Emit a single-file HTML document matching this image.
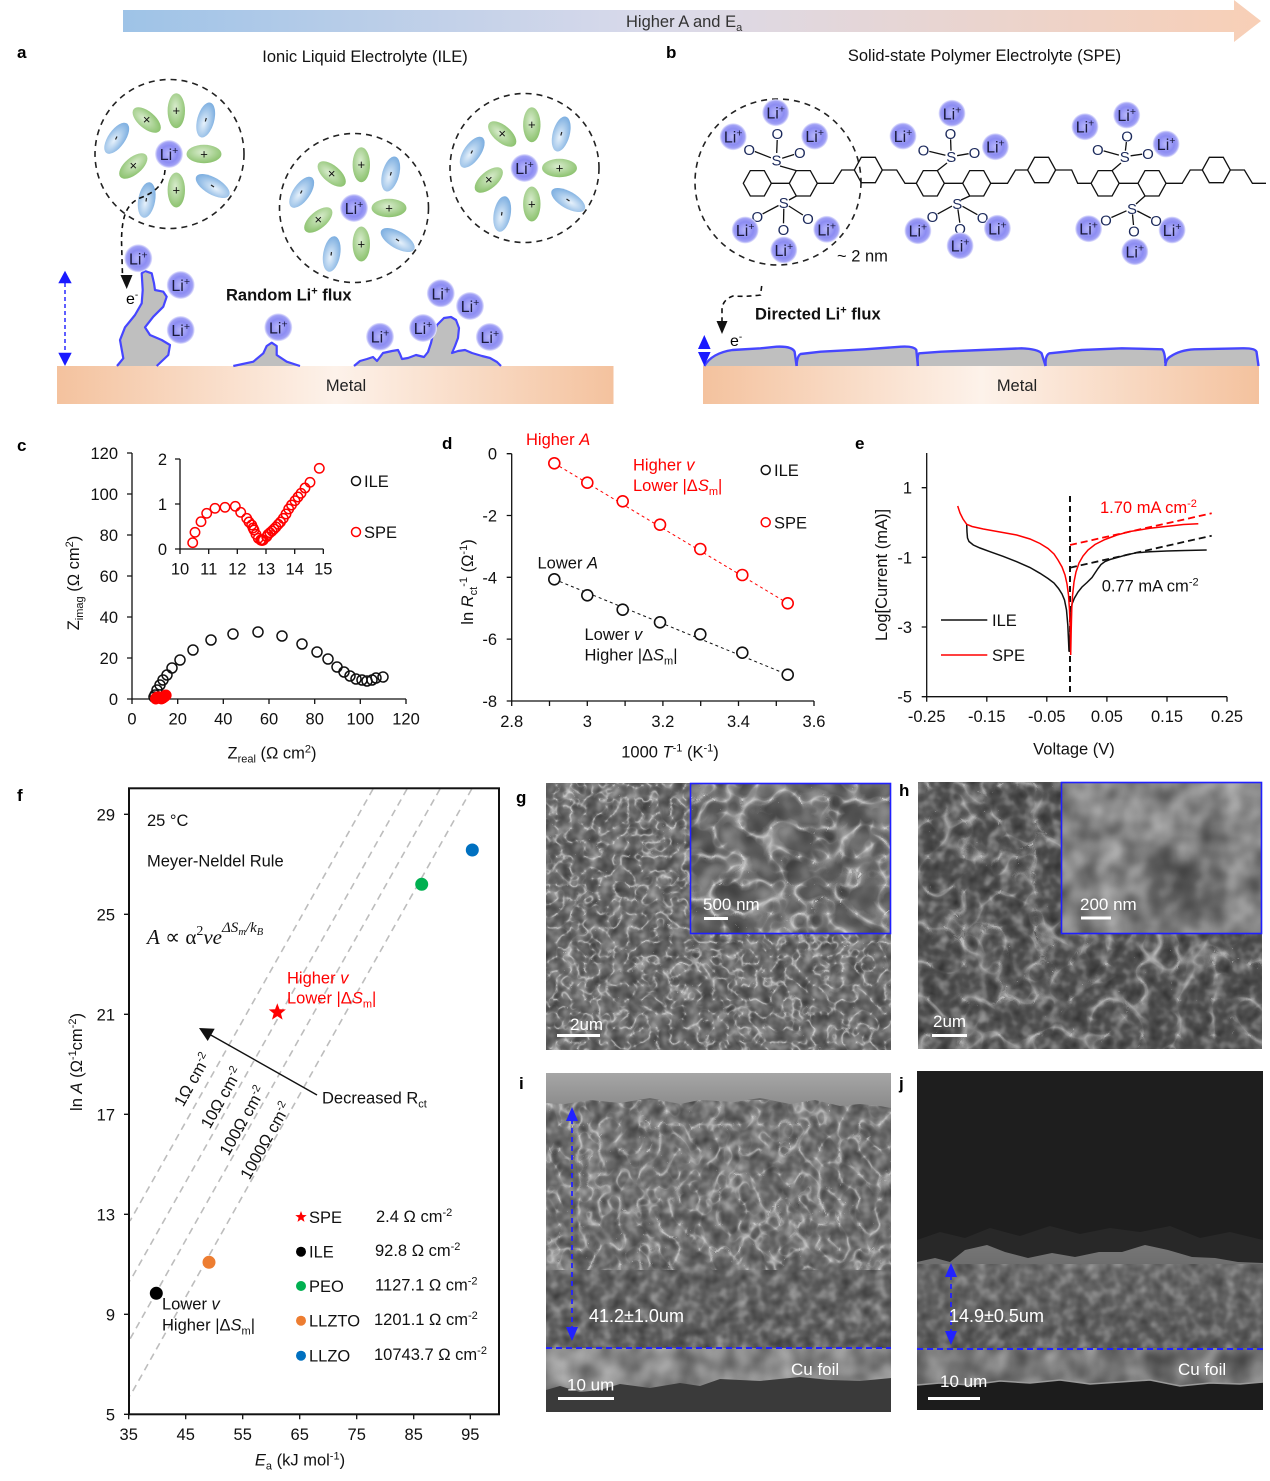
<!DOCTYPE html>
<html><head><meta charset="utf-8"><style>
html,body{margin:0;padding:0;background:#fff;}
svg{display:block;font-family:"Liberation Sans",Arial,sans-serif;}
</style></head><body>
<svg width="1270" height="1481" viewBox="0 0 1270 1481" xmlns="http://www.w3.org/2000/svg">
<defs>
<linearGradient id="bar" x1="123" y1="0" x2="1261" y2="0" gradientUnits="userSpaceOnUse">
<stop offset="0" stop-color="#9ec3e7"/><stop offset="0.47" stop-color="#dadaea"/><stop offset="1" stop-color="#f8cfb6"/></linearGradient>
<linearGradient id="metal" x1="0" y1="0" x2="1" y2="0">
<stop offset="0" stop-color="#f4c29e"/><stop offset="0.5" stop-color="#fdf2ea"/><stop offset="1" stop-color="#f4c29e"/></linearGradient>
<radialGradient id="li" cx="0.5" cy="0.5" r="0.5">
<stop offset="0" stop-color="#b8b8fb"/><stop offset="0.6" stop-color="#8c8cf2"/><stop offset="0.85" stop-color="#a0a0f5"/><stop offset="1" stop-color="#ececfe"/></radialGradient>
<radialGradient id="gr" cx="0.45" cy="0.4" r="0.65">
<stop offset="0" stop-color="#d9ecce"/><stop offset="1" stop-color="#86bf67"/></radialGradient>
<radialGradient id="bl" cx="0.45" cy="0.6" r="0.65">
<stop offset="0" stop-color="#e6f1fb"/><stop offset="1" stop-color="#74a9de"/></radialGradient>
<linearGradient id="iTop" x1="0" y1="0" x2="0" y2="1"><stop offset="0" stop-color="#a6a6a6"/><stop offset="1" stop-color="#8a8a8a"/></linearGradient>
<linearGradient id="iBody" x1="0" y1="0" x2="0" y2="1"><stop offset="0" stop-color="#6a6a6a"/><stop offset="0.6" stop-color="#646464"/><stop offset="1" stop-color="#5c5c5c"/></linearGradient>
<linearGradient id="jDep" x1="0" y1="0" x2="0" y2="1"><stop offset="0" stop-color="#767676"/><stop offset="0.4" stop-color="#656565"/><stop offset="1" stop-color="#5a5a5a"/></linearGradient>
<radialGradient id="hdark" cx="0.5" cy="0.5" r="0.5"><stop offset="0" stop-color="#505050"/><stop offset="1" stop-color="#505050" stop-opacity="0"/></radialGradient>
<filter id="nzA" x="0" y="0" width="100%" height="100%" color-interpolation-filters="sRGB">
<feTurbulence type="fractalNoise" baseFrequency="0.08" numOctaves="2" seed="4"/>
<feColorMatrix type="matrix" values="1 0 0 0 0  1 0 0 0 0  1 0 0 0 0  1 0 0 0 0"/>
<feComponentTransfer><feFuncR type="discrete" tableValues="0 1"/><feFuncG type="discrete" tableValues="0 1"/><feFuncB type="discrete" tableValues="0 1"/><feFuncA type="table" tableValues="0.5 0 0.5"/></feComponentTransfer>
</filter>
<filter id="nzB" x="0" y="0" width="100%" height="100%" color-interpolation-filters="sRGB">
<feTurbulence type="fractalNoise" baseFrequency="0.04" numOctaves="2" seed="9"/>
<feColorMatrix type="matrix" values="1 0 0 0 0  1 0 0 0 0  1 0 0 0 0  1 0 0 0 0"/>
<feComponentTransfer><feFuncR type="discrete" tableValues="0 1"/><feFuncG type="discrete" tableValues="0 1"/><feFuncB type="discrete" tableValues="0 1"/><feFuncA type="table" tableValues="0.5 0 0.5"/></feComponentTransfer>
</filter>
<filter id="vnG" x="0" y="0" width="100%" height="100%" color-interpolation-filters="sRGB">
<feTurbulence type="turbulence" baseFrequency="0.07" numOctaves="2" seed="7"/>
<feColorMatrix type="matrix" values="0 0 0 0 1  0 0 0 0 1  0 0 0 0 1  1 0 0 0 0"/>
<feComponentTransfer><feFuncA type="table" tableValues="0.6 0.12 0 0 0 0 0 0"/></feComponentTransfer>
<feColorMatrix type="matrix" values="0 0 0 0 1  0 0 0 0 1  0 0 0 0 1  0 0 0 1 0"/>
</filter>
<filter id="vnGi" x="0" y="0" width="100%" height="100%" color-interpolation-filters="sRGB">
<feTurbulence type="turbulence" baseFrequency="0.035" numOctaves="2" seed="11"/>
<feColorMatrix type="matrix" values="0 0 0 0 1  0 0 0 0 1  0 0 0 0 1  1 0 0 0 0"/>
<feComponentTransfer><feFuncA type="table" tableValues="0.65 0.18 0 0 0 0 0 0"/></feComponentTransfer>
<feColorMatrix type="matrix" values="0 0 0 0 1  0 0 0 0 1  0 0 0 0 1  0 0 0 1 0"/>
</filter>
<filter id="vnH" x="0" y="0" width="100%" height="100%" color-interpolation-filters="sRGB">
<feTurbulence type="turbulence" baseFrequency="0.028" numOctaves="2" seed="3"/>
<feColorMatrix type="matrix" values="0 0 0 0 1  0 0 0 0 1  0 0 0 0 1  1 0 0 0 0"/>
<feComponentTransfer><feFuncA type="table" tableValues="0.5 0.1 0 0 0 0 0 0"/></feComponentTransfer>
<feColorMatrix type="matrix" values="0 0 0 0 1  0 0 0 0 1  0 0 0 0 1  0 0 0 1 0"/>
</filter>
<filter id="vnI" x="0" y="0" width="100%" height="100%" color-interpolation-filters="sRGB">
<feTurbulence type="turbulence" baseFrequency="0.05 0.04" numOctaves="2" seed="21"/>
<feColorMatrix type="matrix" values="0 0 0 0 1  0 0 0 0 1  0 0 0 0 1  1 0 0 0 0"/>
<feComponentTransfer><feFuncA type="table" tableValues="0.55 0.12 0 0 0 0 0 0"/></feComponentTransfer>
<feColorMatrix type="matrix" values="0 0 0 0 1  0 0 0 0 1  0 0 0 0 1  0 0 0 1 0"/>
</filter>
</defs>

<!-- ========== TOP ARROW ========== -->
<path d="M123,10 H1234 V0 L1261,21 L1234,42 V32 H123 Z" fill="url(#bar)"/>
<text x="626" y="27" font-size="16.5" fill="#333">Higher A and E<tspan font-size="11" dy="4">a</tspan></text>

<!-- ========== PANEL A ========== -->
<text x="17" y="58" font-size="17" font-weight="bold">a</text>
<text x="365" y="62" font-size="16.5" text-anchor="middle" fill="#111">Ionic Liquid Electrolyte (ILE)</text>

<g fill="none" stroke="#222" stroke-width="1.6" stroke-dasharray="6,5">
<circle cx="169.5" cy="154" r="74.5"/>
<circle cx="354" cy="208" r="74.5"/>
<circle cx="524.5" cy="168" r="74.5"/>
</g>

<g transform="translate(169,154)">
<ellipse cx="7.3" cy="-43.3" rx="8.7" ry="17.5" fill="url(#gr)"/>
<ellipse transform="translate(36.7,-34) rotate(15)" rx="8.5" ry="18" fill="url(#bl)"/>
<ellipse cx="35" cy="0" rx="17.5" ry="9.2" fill="url(#gr)"/>
<ellipse transform="translate(43.7,32) rotate(-60)" rx="8.5" ry="19" fill="url(#bl)"/>
<ellipse cx="7.3" cy="36" rx="8.7" ry="17.5" fill="url(#gr)"/>
<ellipse transform="translate(-22.3,46) rotate(10)" rx="8.5" ry="18" fill="url(#bl)"/>
<ellipse transform="translate(-35.7,12) rotate(50)" rx="8.5" ry="17" fill="url(#gr)"/>
<ellipse transform="translate(-52.3,-15.7) rotate(35)" rx="8.5" ry="18" fill="url(#bl)"/>
<ellipse transform="translate(-22.3,-34) rotate(-50)" rx="8.5" ry="17" fill="url(#gr)"/>
<g font-size="13" text-anchor="middle" fill="#111"><text x="7.3" y="-39">+</text><text x="35" y="4.5">+</text><text x="7.3" y="40.5">+</text><text x="-35.7" y="16">×</text><text x="-22.3" y="-30">×</text></g>
<g stroke="#222" stroke-width="1.2"><path d="M37.3,-36 l-1,3.5"/><path d="M42,31 l3,2"/><path d="M-22.5,44 l-0.5,3.5"/><path d="M-52,-17.5 l-1.5,3"/></g>
<circle r="14" fill="url(#li)"/>
<text x="0" y="6" font-size="16" text-anchor="middle" fill="#1a1a3a">Li<tspan font-size="10.5" dy="-6">+</tspan></text>
</g>
<g transform="translate(354,208)">
<ellipse cx="7.3" cy="-43.3" rx="8.7" ry="17.5" fill="url(#gr)"/>
<ellipse transform="translate(36.7,-34) rotate(15)" rx="8.5" ry="18" fill="url(#bl)"/>
<ellipse cx="35" cy="0" rx="17.5" ry="9.2" fill="url(#gr)"/>
<ellipse transform="translate(43.7,32) rotate(-60)" rx="8.5" ry="19" fill="url(#bl)"/>
<ellipse cx="7.3" cy="36" rx="8.7" ry="17.5" fill="url(#gr)"/>
<ellipse transform="translate(-22.3,46) rotate(10)" rx="8.5" ry="18" fill="url(#bl)"/>
<ellipse transform="translate(-35.7,12) rotate(50)" rx="8.5" ry="17" fill="url(#gr)"/>
<ellipse transform="translate(-52.3,-15.7) rotate(35)" rx="8.5" ry="18" fill="url(#bl)"/>
<ellipse transform="translate(-22.3,-34) rotate(-50)" rx="8.5" ry="17" fill="url(#gr)"/>
<g font-size="13" text-anchor="middle" fill="#111"><text x="7.3" y="-39">+</text><text x="35" y="4.5">+</text><text x="7.3" y="40.5">+</text><text x="-35.7" y="16">×</text><text x="-22.3" y="-30">×</text></g>
<g stroke="#222" stroke-width="1.2"><path d="M37.3,-36 l-1,3.5"/><path d="M42,31 l3,2"/><path d="M-22.5,44 l-0.5,3.5"/><path d="M-52,-17.5 l-1.5,3"/></g>
<circle r="14" fill="url(#li)"/>
<text x="0" y="6" font-size="16" text-anchor="middle" fill="#1a1a3a">Li<tspan font-size="10.5" dy="-6">+</tspan></text>
</g>
<g transform="translate(524.5,168)">
<ellipse cx="7.3" cy="-43.3" rx="8.7" ry="17.5" fill="url(#gr)"/>
<ellipse transform="translate(36.7,-34) rotate(15)" rx="8.5" ry="18" fill="url(#bl)"/>
<ellipse cx="35" cy="0" rx="17.5" ry="9.2" fill="url(#gr)"/>
<ellipse transform="translate(43.7,32) rotate(-60)" rx="8.5" ry="19" fill="url(#bl)"/>
<ellipse cx="7.3" cy="36" rx="8.7" ry="17.5" fill="url(#gr)"/>
<ellipse transform="translate(-22.3,46) rotate(10)" rx="8.5" ry="18" fill="url(#bl)"/>
<ellipse transform="translate(-35.7,12) rotate(50)" rx="8.5" ry="17" fill="url(#gr)"/>
<ellipse transform="translate(-52.3,-15.7) rotate(35)" rx="8.5" ry="18" fill="url(#bl)"/>
<ellipse transform="translate(-22.3,-34) rotate(-50)" rx="8.5" ry="17" fill="url(#gr)"/>
<g font-size="13" text-anchor="middle" fill="#111"><text x="7.3" y="-39">+</text><text x="35" y="4.5">+</text><text x="7.3" y="40.5">+</text><text x="-35.7" y="16">×</text><text x="-22.3" y="-30">×</text></g>
<g stroke="#222" stroke-width="1.2"><path d="M37.3,-36 l-1,3.5"/><path d="M42,31 l3,2"/><path d="M-22.5,44 l-0.5,3.5"/><path d="M-52,-17.5 l-1.5,3"/></g>
<circle r="14" fill="url(#li)"/>
<text x="0" y="6" font-size="16" text-anchor="middle" fill="#1a1a3a">Li<tspan font-size="10.5" dy="-6">+</tspan></text>
</g>

<path d="M165,170 C164,184 156,192 140,198 C127,204 122,215 121.5,240 L122.5,276" fill="none" stroke="#111" stroke-width="1.6" stroke-dasharray="5,4"/>
<polygon points="120.5,275 132.5,275 126.7,289" fill="#111"/>
<text x="126" y="304" font-size="16">e<tspan font-size="10" dy="-6">-</tspan></text>

<line x1="65" y1="283" x2="65" y2="353" stroke="#1a1aff" stroke-width="1.4" stroke-dasharray="4,3"/>
<polygon points="65,270.7 58.3,283.3 71.7,283.3" fill="#1a1aff"/>
<polygon points="65,366 58.3,352.7 71.7,352.7" fill="#1a1aff"/>

<rect x="57" y="366" width="556.5" height="38" fill="url(#metal)"/>
<text x="346" y="391" font-size="16.5" text-anchor="middle" fill="#222">Metal</text>

<g fill="#bfbfbf">
<path d="M117,366 L123.3,358.3 L120,340 L125,327.3 L135,315 L141.7,303.3 L142.7,290 L141.7,273.3 L145,271 L151.7,273.3 L154,283.3 L155,290 L163.3,291.7 L166.7,296.7 L163.3,306.7 L153.3,316.7 L145,327.3 L150,335 L161.7,340 L170,345 L168.3,355 L156.7,366 Z"/>
<path d="M233.3,366 L253.3,361.7 L263.3,353.3 L266.7,346 L271.7,342.7 L276.7,346 L276.7,355 L286.7,361.7 L300,366 Z"/>
<path d="M354,366 L360,361 L367,359 L373,357 L377,361 L380,357 L383,353 L392,351 L398,350 L400,354 L402,359 L408,358 L416,355 L424,357 L428,352 L431,343 L433,334 L437,325 L444,318 L451,317 L456,320 L459,328 L458,338 L455,346 L452,353 L458,351 L465,350 L472,353 L482,356 L490,358 L497,362 L501,366 Z"/>
</g>
<g fill="none" stroke="#4646ff" stroke-width="2.2" stroke-linejoin="round">
<path d="M117,366 L123.3,358.3 L120,340 L125,327.3 L135,315 L141.7,303.3 L142.7,290 L141.7,273.3 L145,271 L151.7,273.3 L154,283.3 L155,290 L163.3,291.7 L166.7,296.7 L163.3,306.7 L153.3,316.7 L145,327.3 L150,335 L161.7,340 L170,345 L168.3,355 L156.7,366"/>
<path d="M233.3,366 L253.3,361.7 L263.3,353.3 L266.7,346 L271.7,342.7 L276.7,346 L276.7,355 L286.7,361.7 L300,366"/>
<path d="M354,366 L360,361 L367,359 L373,357 L377,361 L380,357 L383,353 L392,351 L398,350 L400,354 L402,359 L408,358 L416,355 L424,357 L428,352 L431,343 L433,334 L437,325 L444,318 L451,317 L456,320 L459,328 L458,338 L455,346 L452,353 L458,351 L465,350 L472,353 L482,356 L490,358 L497,362 L501,366"/>
</g>

<g>
<circle cx="138.3" cy="258.3" r="14" fill="url(#li)"/>
<circle cx="180.7" cy="285" r="14" fill="url(#li)"/>
<circle cx="180.7" cy="330" r="14" fill="url(#li)"/>
<circle cx="278.3" cy="327.3" r="14" fill="url(#li)"/>
<circle cx="440.8" cy="293.3" r="14" fill="url(#li)"/>
<circle cx="470" cy="306" r="14" fill="url(#li)"/>
<circle cx="423" cy="328" r="14" fill="url(#li)"/>
<circle cx="380" cy="336.7" r="14" fill="url(#li)"/>
<circle cx="489.8" cy="337" r="14" fill="url(#li)"/>
</g>
<g font-size="16" text-anchor="middle" fill="#1a1a3a">
<text x="138.3" y="264.3">Li<tspan font-size="10.5" dy="-6">+</tspan></text>
<text x="180.7" y="291">Li<tspan font-size="10.5" dy="-6">+</tspan></text>
<text x="180.7" y="336">Li<tspan font-size="10.5" dy="-6">+</tspan></text>
<text x="278.3" y="333.3">Li<tspan font-size="10.5" dy="-6">+</tspan></text>
<text x="440.8" y="299.3">Li<tspan font-size="10.5" dy="-6">+</tspan></text>
<text x="470" y="312">Li<tspan font-size="10.5" dy="-6">+</tspan></text>
<text x="423" y="334">Li<tspan font-size="10.5" dy="-6">+</tspan></text>
<text x="380" y="342.7">Li<tspan font-size="10.5" dy="-6">+</tspan></text>
<text x="489.8" y="343">Li<tspan font-size="10.5" dy="-6">+</tspan></text>
</g>
<text x="226" y="300.5" font-size="16.5" font-weight="bold" fill="#111">Random Li<tspan font-size="11" dy="-6">+</tspan><tspan dy="6"> flux</tspan></text>

<!-- ========== PANEL B ========== -->
<text x="666" y="58" font-size="17" font-weight="bold">b</text>
<text x="984.5" y="61" font-size="16.5" text-anchor="middle" fill="#111">Solid-state Polymer Electrolyte (SPE)</text>
<circle cx="778" cy="182" r="83" fill="none" stroke="#222" stroke-width="1.6" stroke-dasharray="6,5"/>

<g fill="none" stroke="#111" stroke-width="1.3">
<polygon points="771.3,183.3 764.3,196 750.3,196 743.3,183.3 750.3,170.6 764.3,170.6"/>
<polygon points="817.3,183.3 810.3,196 796.3,196 789.3,183.3 796.3,170.6 810.3,170.6"/>
<polygon points="882.3,170 875.3,182.7 861.3,182.7 854.3,170 861.3,157.3 875.3,157.3"/>
<polygon points="944.3,183.3 937.3,196 923.3,196 916.3,183.3 923.3,170.6 937.3,170.6"/>
<polygon points="990.7,183.3 983.7,196 969.7,196 962.7,183.3 969.7,170.6 983.7,170.6"/>
<polygon points="1055.6,170 1048.6,182.7 1034.6,182.7 1027.6,170 1034.6,157.3 1048.6,157.3"/>
<polygon points="1119.1,183.3 1112.1,196 1098.1,196 1091.1,183.3 1098.1,170.6 1112.1,170.6"/>
<polygon points="1166,183.3 1159,196 1145,196 1138,183.3 1145,170.6 1159,170.6"/>
<polygon points="1230.3,170 1223.3,182.7 1209.3,182.7 1202.3,170 1209.3,157.3 1223.3,157.3"/>
<path d="M771.3,183.3 L789.3,183.3"/>
<path d="M817.3,183.3 L833.3,183.3 L841.7,170 L854.3,170"/>
<path d="M882.3,170 L896.7,170 L905,183.3 L916.3,183.3"/>
<path d="M944.3,183.3 L962.7,183.3"/>
<path d="M990.7,183.3 L1007.5,183.3 L1015.5,170 L1027.6,170"/>
<path d="M1055.6,170 L1071.7,170 L1077.7,183.3 L1091.1,183.3"/>
<path d="M1119.1,183.3 L1138,183.3"/>
<path d="M1166,183.3 L1182.2,183.3 L1190.2,170 L1202.3,170"/>
<path d="M1230.3,170 L1244.4,170 L1252.4,183.3 L1266,183.3"/>
<path d="M780,166 L796.3,170.6"/>
<path d="M789,200 L796.3,196"/>
<path d="M947,163 L937.3,170.6"/>
<path d="M961,200 L969.7,196"/>
<path d="M1121,163 L1112.1,170.6"/>
<path d="M1136,204 L1145,196"/>
<path d="M776.7,153 L777.2,140"/><path d="M770.9,157.8 L754.8,151.5"/><path d="M782.2,158.2 L794.1,154.5"/>
<path d="M778.5,205.5 L762.6,213.9"/><path d="M788.8,206 L802.9,215"/><path d="M783.8,208.7 L783.5,223.3"/>
<path d="M951,150.7 L950.6,139.3"/><path d="M945.4,155.3 L929.3,151.4"/><path d="M957.1,155.7 L968.6,153.7"/>
<path d="M952,206.1 L937.7,213.9"/><path d="M962.5,206.3 L977.4,214.7"/><path d="M957.9,209.3 L959.8,222.7"/>
<path d="M1125.4,150.7 L1126.4,142"/><path d="M1118.9,155.1 L1103.6,150.9"/><path d="M1130.6,155.8 L1142.1,154.2"/>
<path d="M1126.5,210.8 L1111.4,217.5"/><path d="M1137.3,211 L1150.8,218"/><path d="M1132.5,214.3 L1133.5,225"/>
</g>
<g font-size="15" text-anchor="middle" fill="#1c2a5c">
<text x="776.5" y="165.5">S</text><text x="777.3" y="138.8">O</text><text x="749.2" y="154.8">O</text><text x="799.8" y="158.2">O</text>
<text x="783.8" y="208.2">S</text><text x="757.3" y="222.2">O</text><text x="807.9" y="223.8">O</text><text x="783.4" y="234.8">O</text>
<text x="951.2" y="162.2">S</text><text x="950.4" y="138.8">O</text><text x="923.5" y="155.5">O</text><text x="974.5" y="158.2">O</text>
<text x="957.3" y="208.8">S</text><text x="932.4" y="222.2">O</text><text x="982.6" y="223.2">O</text><text x="960.1" y="234.2">O</text>
<text x="1124.7" y="162.2">S</text><text x="1127.1" y="141.5">O</text><text x="1097.8" y="154.8">O</text><text x="1148" y="158.8">O</text>
<text x="1132" y="213.8">S</text><text x="1105.9" y="225.5">O</text><text x="1156.1" y="226.2">O</text><text x="1134" y="236.5">O</text>
</g>
<g>
<circle cx="775.7" cy="112.7" r="13.5" fill="url(#li)"/><circle cx="733.2" cy="136.7" r="13.5" fill="url(#li)"/><circle cx="814.7" cy="136" r="13.5" fill="url(#li)"/>
<circle cx="745.2" cy="230" r="13.5" fill="url(#li)"/><circle cx="826.7" cy="229.3" r="13.5" fill="url(#li)"/><circle cx="783.8" cy="250" r="13.5" fill="url(#li)"/>
<circle cx="952" cy="113.3" r="13.5" fill="url(#li)"/><circle cx="903" cy="136" r="13.5" fill="url(#li)"/><circle cx="995.4" cy="146.7" r="13.5" fill="url(#li)"/>
<circle cx="917.9" cy="230.7" r="13.5" fill="url(#li)"/><circle cx="997.4" cy="228.3" r="13.5" fill="url(#li)"/><circle cx="960.1" cy="245.7" r="13.5" fill="url(#li)"/>
<circle cx="1126.7" cy="115" r="13.5" fill="url(#li)"/><circle cx="1085" cy="126.7" r="13.5" fill="url(#li)"/><circle cx="1166.1" cy="144" r="13.5" fill="url(#li)"/>
<circle cx="1088.6" cy="228.7" r="13.5" fill="url(#li)"/><circle cx="1172.1" cy="230" r="13.5" fill="url(#li)"/><circle cx="1134.8" cy="251.7" r="13.5" fill="url(#li)"/>
</g>
<g font-size="16" text-anchor="middle" fill="#1a1a3a">
<text x="775.7" y="118.7">Li<tspan font-size="10.5" dy="-6">+</tspan></text><text x="733.2" y="142.7">Li<tspan font-size="10.5" dy="-6">+</tspan></text><text x="814.7" y="142">Li<tspan font-size="10.5" dy="-6">+</tspan></text>
<text x="745.2" y="236">Li<tspan font-size="10.5" dy="-6">+</tspan></text><text x="826.7" y="235.3">Li<tspan font-size="10.5" dy="-6">+</tspan></text><text x="783.8" y="256">Li<tspan font-size="10.5" dy="-6">+</tspan></text>
<text x="952" y="119.3">Li<tspan font-size="10.5" dy="-6">+</tspan></text><text x="903" y="142">Li<tspan font-size="10.5" dy="-6">+</tspan></text><text x="995.4" y="152.7">Li<tspan font-size="10.5" dy="-6">+</tspan></text>
<text x="917.9" y="236.7">Li<tspan font-size="10.5" dy="-6">+</tspan></text><text x="997.4" y="234.3">Li<tspan font-size="10.5" dy="-6">+</tspan></text><text x="960.1" y="251.7">Li<tspan font-size="10.5" dy="-6">+</tspan></text>
<text x="1126.7" y="121">Li<tspan font-size="10.5" dy="-6">+</tspan></text><text x="1085" y="132.7">Li<tspan font-size="10.5" dy="-6">+</tspan></text><text x="1166.1" y="150">Li<tspan font-size="10.5" dy="-6">+</tspan></text>
<text x="1088.6" y="234.7">Li<tspan font-size="10.5" dy="-6">+</tspan></text><text x="1172.1" y="236">Li<tspan font-size="10.5" dy="-6">+</tspan></text><text x="1134.8" y="257.7">Li<tspan font-size="10.5" dy="-6">+</tspan></text>
</g>
<text x="837" y="261.5" font-size="16.5" fill="#111">~ 2 nm</text>

<path d="M761.7,286 L760.5,295 Q746,297 733,296 Q722,300 722,310 L722,322" fill="none" stroke="#111" stroke-width="1.6" stroke-dasharray="5,4"/>
<polygon points="716.5,321 727.5,321 722,334" fill="#111"/>
<text x="730" y="346" font-size="16">e<tspan font-size="10" dy="-6">-</tspan></text>
<text x="755" y="319.5" font-size="16.5" font-weight="bold" fill="#111">Directed Li<tspan font-size="11" dy="-6">+</tspan><tspan dy="6"> flux</tspan></text>

<rect x="703" y="366" width="556" height="38" fill="url(#metal)"/>
<text x="1017" y="391" font-size="16.5" text-anchor="middle" fill="#222">Metal</text>
<g fill="#bfbfbf">
<path d="M704.3,366 Q712,353 732.4,350 L760.5,348.3 L776.5,346.7 Q792,346 794.6,351.7 L796.6,366 Z"/>
<path d="M796.6,366 Q797,356 800.6,354 L820.7,351.7 L864.9,349.3 L901,346.7 Q914,346 916.3,350 L917.9,366 Z"/>
<path d="M917.9,366 Q917,355 919.1,353.3 L941.2,351.7 L981.4,350 L1021.5,348.3 Q1038,349 1041.6,353.3 L1045.6,366 Z"/>
<path d="M1045.6,366 Q1045,355 1049.6,353.3 L1081.8,350 L1121.9,348.3 L1162.1,349.3 Q1165,352 1165.3,363.3 L1165.3,366 Z"/>
<path d="M1165.3,366 Q1166,359 1170.1,356.7 Q1180,350 1194.2,349.3 L1242.4,348.3 Q1255,348 1256.5,351.7 L1258.5,366 Z"/>
</g>
<g fill="none" stroke="#4646ff" stroke-width="2.4" stroke-linejoin="round">
<path d="M704.3,366 Q712,353 732.4,350 L760.5,348.3 L776.5,346.7 Q792,346 794.6,351.7 L796.6,366"/>
<path d="M796.6,366 Q797,356 800.6,354 L820.7,351.7 L864.9,349.3 L901,346.7 Q914,346 916.3,350 L917.9,366"/>
<path d="M917.9,366 Q917,355 919.1,353.3 L941.2,351.7 L981.4,350 L1021.5,348.3 Q1038,349 1041.6,353.3 L1045.6,366"/>
<path d="M1045.6,366 Q1045,355 1049.6,353.3 L1081.8,350 L1121.9,348.3 L1162.1,349.3 Q1165,352 1165.3,363.3"/>
<path d="M1165.3,366 Q1166,359 1170.1,356.7 Q1180,350 1194.2,349.3 L1242.4,348.3 Q1255,348 1256.5,351.7 L1258.5,366"/>
</g>
<polygon points="704.3,335 698,349 710.6,349" fill="#1a1aff"/>
<polygon points="704.3,366 698,352 710.6,352" fill="#1a1aff"/>

<!-- ========== PANEL C ========== -->
<text x="17" y="451" font-size="17" font-weight="bold">c</text>
<g stroke="#111" stroke-width="1.3" fill="none">
<path d="M132,453 V699 H406"/>
<path d="M127,699 H132 M127,658 H132 M127,617 H132 M127,576 H132 M127,535 H132 M127,494 H132 M127,453 H132"/>
<path d="M132,699 V704 M177.7,699 V704 M223.3,699 V704 M269,699 V704 M314.7,699 V704 M360.3,699 V704 M406,699 V704"/>
</g>
<g font-size="16.5" text-anchor="end" fill="#111">
<text x="118" y="705">0</text><text x="118" y="664">20</text><text x="118" y="623">40</text><text x="118" y="582">60</text><text x="118" y="541">80</text><text x="118" y="500">100</text><text x="118" y="459">120</text>
</g>
<g font-size="16.5" text-anchor="middle" fill="#111">
<text x="132" y="724.5">0</text><text x="177.7" y="724.5">20</text><text x="223.3" y="724.5">40</text><text x="269" y="724.5">60</text><text x="314.7" y="724.5">80</text><text x="360.3" y="724.5">100</text><text x="406" y="724.5">120</text>
</g>
<text transform="translate(79,583) rotate(-90)" font-size="16.5" text-anchor="middle" fill="#111">Z<tspan font-size="11" dy="4">imag</tspan><tspan dy="-4"> (Ω cm</tspan><tspan font-size="11" dy="-6">2</tspan><tspan dy="6">)</tspan></text>
<text x="272" y="758.5" font-size="16.5" text-anchor="middle" fill="#111">Z<tspan font-size="11" dy="4">real</tspan><tspan dy="-4"> (Ω cm</tspan><tspan font-size="11" dy="-6">2</tspan><tspan dy="6">)</tspan></text>
<g fill="none" stroke="#111" stroke-width="1.5">
<circle cx="154" cy="697" r="5"/><circle cx="155" cy="695" r="5"/><circle cx="157" cy="690" r="5"/><circle cx="160" cy="685" r="5"/><circle cx="163" cy="680" r="5"/><circle cx="167" cy="675" r="5"/><circle cx="172" cy="668" r="5"/><circle cx="180" cy="660" r="5"/><circle cx="193" cy="650" r="5"/><circle cx="211" cy="640" r="5"/><circle cx="233" cy="634" r="5"/><circle cx="258" cy="632" r="5"/><circle cx="282" cy="636" r="5"/><circle cx="302" cy="644" r="5"/><circle cx="317" cy="652" r="5"/><circle cx="328" cy="659" r="5"/><circle cx="337" cy="667" r="5"/><circle cx="344" cy="672" r="5"/><circle cx="350" cy="676" r="5"/><circle cx="356" cy="679" r="5"/><circle cx="362" cy="680" r="5"/><circle cx="367" cy="681" r="5"/><circle cx="372" cy="680" r="5"/><circle cx="376" cy="678" r="5"/><circle cx="383" cy="677" r="5"/>
</g>
<g fill="none" stroke="#ff0000" stroke-width="2.5">
<circle cx="155.8" cy="698.7" r="4.5"/><circle cx="156" cy="698.2" r="4.5"/><circle cx="156.5" cy="697.8" r="4.5"/><circle cx="157" cy="697.4" r="4.5"/><circle cx="157.6" cy="697.2" r="4.5"/><circle cx="158.4" cy="697.1" r="4.5"/><circle cx="159.2" cy="697.1" r="4.5"/><circle cx="159.7" cy="697.3" r="4.5"/><circle cx="160.1" cy="697.6" r="4.5"/><circle cx="160.5" cy="697.9" r="4.5"/><circle cx="160.9" cy="698.3" r="4.5"/><circle cx="161.3" cy="698.6" r="4.5"/><circle cx="161.7" cy="698.4" r="4.5"/><circle cx="162.3" cy="698.1" r="4.5"/><circle cx="162.7" cy="697.9" r="4.5"/><circle cx="163.1" cy="697.6" r="4.5"/><circle cx="163.5" cy="697.2" r="4.5"/><circle cx="164" cy="696.8" r="4.5"/><circle cx="164.5" cy="696.5" r="4.5"/><circle cx="165.2" cy="696" r="4.5"/><circle cx="165.9" cy="695.3" r="4.5"/><circle cx="158" cy="699" r="3"/><circle cx="162" cy="699" r="3"/>
</g>
<g stroke="#111" stroke-width="1.3" fill="none">
<path d="M180,459 V549 H323.3"/>
<path d="M175,549 H180 M175,504 H180 M175,459 H180"/>
<path d="M180,549 V554 M208.7,549 V554 M237.3,549 V554 M266,549 V554 M294.7,549 V554 M323.3,549 V554"/>
</g>
<g font-size="16.5" fill="#111">
<g text-anchor="end"><text x="167" y="555">0</text><text x="167" y="510">1</text><text x="167" y="465">2</text></g>
<g text-anchor="middle"><text x="180" y="574.5">10</text><text x="208.7" y="574.5">11</text><text x="237.3" y="574.5">12</text><text x="266" y="574.5">13</text><text x="294.7" y="574.5">14</text><text x="323.3" y="574.5">15</text></g>
</g>
<g fill="none" stroke="#ff0000" stroke-width="1.5">
<circle cx="192.7" cy="542.7" r="4.7"/><circle cx="195" cy="532.3" r="4.7"/><circle cx="201" cy="521.7" r="4.7"/><circle cx="206.7" cy="513.3" r="4.7"/><circle cx="215" cy="508.3" r="4.7"/><circle cx="225" cy="507.3" r="4.7"/><circle cx="235.3" cy="506.3" r="4.7"/><circle cx="240.7" cy="512.3" r="4.7"/><circle cx="246.7" cy="518.3" r="4.7"/><circle cx="249" cy="522" r="4.7"/><circle cx="251.7" cy="525" r="4.7"/><circle cx="253" cy="528" r="4.7"/><circle cx="254" cy="530" r="4.7"/><circle cx="256" cy="534.3" r="4.7"/><circle cx="258.3" cy="538.3" r="4.7"/><circle cx="260.7" cy="540" r="4.7"/><circle cx="262" cy="540.5" r="4.7"/><circle cx="263.3" cy="540" r="4.7"/><circle cx="266.7" cy="536.7" r="4.7"/><circle cx="268" cy="534.5" r="4.7"/><circle cx="270" cy="532.7" r="4.7"/><circle cx="272" cy="531" r="4.7"/><circle cx="274" cy="529" r="4.7"/><circle cx="276" cy="527" r="4.7"/><circle cx="278.3" cy="524.3" r="4.7"/><circle cx="280.5" cy="522" r="4.7"/><circle cx="283.3" cy="518.3" r="4.7"/><circle cx="286" cy="514" r="4.7"/><circle cx="288.7" cy="509" r="4.7"/><circle cx="291.5" cy="505" r="4.7"/><circle cx="295" cy="500.7" r="4.7"/><circle cx="298" cy="497" r="4.7"/><circle cx="301" cy="493.3" r="4.7"/><circle cx="305" cy="488" r="4.7"/><circle cx="310" cy="482.3" r="4.7"/><circle cx="319.3" cy="468.3" r="4.7"/>
</g>
<circle cx="356" cy="481" r="4.5" fill="none" stroke="#111" stroke-width="1.5"/>
<text x="364" y="487" font-size="16.5" fill="#111">ILE</text>
<circle cx="356" cy="532" r="4.5" fill="none" stroke="#ff0000" stroke-width="1.5"/>
<text x="364" y="538" font-size="16.5" fill="#111">SPE</text>

<!-- ========== PANEL D ========== -->
<text x="442" y="449" font-size="17" font-weight="bold">d</text>
<g stroke="#111" stroke-width="1.3" fill="none">
<path d="M511.7,453.7 V701 H814"/>
<path d="M506.7,453.7 H511.7 M506.7,515.5 H511.7 M506.7,577.3 H511.7 M506.7,639.1 H511.7 M506.7,701 H511.7"/>
<path d="M511.7,701 V706 M549.5,701 V706 M587.3,701 V706 M625.1,701 V706 M662.9,701 V706 M700.7,701 V706 M738.5,701 V706 M776.3,701 V706 M814,701 V706"/>
</g>
<g font-size="16.5" text-anchor="end" fill="#111">
<text x="497" y="459.7">0</text><text x="497" y="521.5">-2</text><text x="497" y="583.3">-4</text><text x="497" y="645.1">-6</text><text x="497" y="707">-8</text>
</g>
<g font-size="16.5" text-anchor="middle" fill="#111">
<text x="511.7" y="727">2.8</text><text x="587.3" y="727">3</text><text x="662.9" y="727">3.2</text><text x="738.5" y="727">3.4</text><text x="814" y="727">3.6</text>
</g>
<text transform="translate(473,582) rotate(-90)" font-size="16.5" text-anchor="middle" fill="#111">ln <tspan font-style="italic">R</tspan><tspan font-size="11" dy="4">ct</tspan><tspan font-size="11" dy="-10">-1</tspan><tspan dy="6"> (Ω</tspan><tspan font-size="11" dy="-6">-1</tspan><tspan dy="6">)</tspan></text>
<text x="670" y="757.5" font-size="16.5" text-anchor="middle" fill="#111">1000 <tspan font-style="italic">T</tspan><tspan font-size="11" dy="-6">-1</tspan><tspan dy="6"> (K</tspan><tspan font-size="11" dy="-6">-1</tspan><tspan dy="6">)</tspan></text>
<line x1="554.3" y1="463.3" x2="787.7" y2="603.3" stroke="#ff0000" stroke-width="1" stroke-dasharray="3,3"/>
<line x1="554.3" y1="579.3" x2="787.7" y2="674.7" stroke="#111" stroke-width="1" stroke-dasharray="3,3"/>
<g fill="#fff" stroke="#ff0000" stroke-width="1.6">
<circle cx="554.3" cy="463.3" r="5.5"/><circle cx="587.3" cy="482.7" r="5.5"/><circle cx="622.7" cy="501.3" r="5.5"/><circle cx="660" cy="524.7" r="5.5"/><circle cx="700.3" cy="549" r="5.5"/><circle cx="742.3" cy="575" r="5.5"/><circle cx="787.7" cy="603.3" r="5.5"/>
</g>
<g fill="#fff" stroke="#111" stroke-width="1.6">
<circle cx="554.3" cy="579.3" r="5.5"/><circle cx="587.3" cy="595.3" r="5.5"/><circle cx="622.7" cy="609.7" r="5.5"/><circle cx="660" cy="622.3" r="5.5"/><circle cx="700.3" cy="634.3" r="5.5"/><circle cx="742.3" cy="652.7" r="5.5"/><circle cx="787.7" cy="674.7" r="5.5"/>
</g>
<text x="526" y="445" font-size="16.5" fill="#ff0000">Higher <tspan font-style="italic">A</tspan></text>
<text x="633" y="470.5" font-size="16.5" fill="#ff0000">Higher <tspan font-style="italic">v</tspan></text>
<text x="633" y="491" font-size="16.5" fill="#ff0000">Lower |Δ<tspan font-style="italic">S</tspan><tspan font-size="11" dy="4">m</tspan><tspan dy="-4">|</tspan></text>
<text x="537.5" y="568.5" font-size="16.5" fill="#111">Lower <tspan font-style="italic">A</tspan></text>
<text x="584.5" y="640" font-size="16.5" fill="#111">Lower <tspan font-style="italic">v</tspan></text>
<text x="584.5" y="660.5" font-size="16.5" fill="#111">Higher |Δ<tspan font-style="italic">S</tspan><tspan font-size="11" dy="4">m</tspan><tspan dy="-4">|</tspan></text>
<circle cx="765.7" cy="470" r="4.5" fill="none" stroke="#111" stroke-width="1.5"/>
<text x="774" y="476" font-size="16.5" fill="#111">ILE</text>
<circle cx="765.7" cy="522.3" r="4.5" fill="none" stroke="#ff0000" stroke-width="1.5"/>
<text x="774" y="528.5" font-size="16.5" fill="#111">SPE</text>

<!-- ========== PANEL E ========== -->
<text x="855" y="449" font-size="17" font-weight="bold">e</text>
<g stroke="#111" stroke-width="1.3" fill="none">
<path d="M926.7,453 V696.7 H1227"/>
<path d="M921.7,487.7 H926.7 M921.7,557.3 H926.7 M921.7,627 H926.7 M921.7,696.7 H926.7"/>
<path d="M926.7,696.7 V701.7 M986.8,696.7 V701.7 M1046.8,696.7 V701.7 M1106.9,696.7 V701.7 M1167,696.7 V701.7 M1227,696.7 V701.7"/>
</g>
<g font-size="16.5" text-anchor="end" fill="#111">
<text x="912" y="493.7">1</text><text x="912" y="563.3">-1</text><text x="912" y="633">-3</text><text x="912" y="702.7">-5</text>
</g>
<g font-size="16.5" text-anchor="middle" fill="#111">
<text x="926.7" y="722">-0.25</text><text x="986.8" y="722">-0.15</text><text x="1046.8" y="722">-0.05</text><text x="1106.9" y="722">0.05</text><text x="1167" y="722">0.15</text><text x="1227" y="722">0.25</text>
</g>
<text transform="translate(887,575) rotate(-90)" font-size="16.5" text-anchor="middle" fill="#111">Log[Current (mA)]</text>
<text x="1074" y="754.5" font-size="16.5" text-anchor="middle" fill="#111">Voltage (V)</text>
<line x1="1070" y1="496" x2="1070" y2="696" stroke="#111" stroke-width="2" stroke-dasharray="6,4"/>
<polyline fill="none" stroke="#111" stroke-width="1.5" points="966.7,524.3 967,532 967.5,538 969,541.5 973.3,545 980,548 990,551.7 1003,556.3 1016.7,561.7 1030,567.5 1040,573.3 1048,578.5 1054,583 1058.5,588.5 1062,594 1064.5,600 1066.5,610 1067.8,625 1068.5,640 1069,651.7 1069.5,645 1070.2,625 1071,612 1072,604 1074.5,598 1078,592 1082,587 1087,582.5 1092,577.5 1095,573 1098,568.5 1101,564.5 1105,561.5 1110,559.5 1116.7,557.7 1126,555 1136.7,552.7 1150,551.8 1166.7,551 1185,550.5 1206.7,550"/>
<polyline fill="none" stroke="#ff0000" stroke-width="1.5" points="957.7,506 960,513 963,519 966.7,524.3 972,526.5 983.3,529 1000,532 1016.7,535 1030,539 1040,543.5 1048,548.5 1054,554 1058,560 1062,567 1065,575 1067,584 1068.5,595 1069.5,610 1070.3,630 1070.7,655 1071.2,630 1071.8,608 1072.6,595 1074,582 1076,572 1079,563 1083,556 1088,550 1095,544.5 1105,539.5 1117,535 1130,531.5 1150,528.3 1170,526 1183.3,524.5 1198.3,523.7"/>
<line x1="1070" y1="545" x2="1211.7" y2="513.3" stroke="#ff0000" stroke-width="1.8" stroke-dasharray="7,4"/>
<line x1="1070" y1="567.7" x2="1211.7" y2="535.7" stroke="#111" stroke-width="1.8" stroke-dasharray="7,4"/>
<text x="1100" y="513" font-size="16.5" fill="#ff0000">1.70 mA cm<tspan font-size="11" dy="-6">-2</tspan></text>
<text x="1101.7" y="591.5" font-size="16.5" fill="#111">0.77 mA cm<tspan font-size="11" dy="-6">-2</tspan></text>
<line x1="941" y1="620" x2="987.3" y2="620" stroke="#111" stroke-width="1.5"/>
<text x="992" y="626" font-size="16.5" fill="#111">ILE</text>
<line x1="941" y1="655" x2="987.3" y2="655" stroke="#ff0000" stroke-width="1.5"/>
<text x="992" y="661" font-size="16.5" fill="#111">SPE</text>

<!-- ========== PANEL F ========== -->
<text x="17" y="801" font-size="17" font-weight="bold">f</text>
<g stroke="#bdbdbd" stroke-width="1.6" stroke-dasharray="7,5" fill="none">
<line x1="373" y1="789" x2="130" y2="1221"/>
<line x1="407" y1="789" x2="130" y2="1281"/>
<line x1="440" y1="789" x2="130" y2="1339"/>
<line x1="471.7" y1="789" x2="130" y2="1396"/>
</g>
<rect x="129" y="788.3" width="370" height="626" fill="none" stroke="#111" stroke-width="2"/>
<g stroke="#111" stroke-width="1.3">
<path d="M124,814.3 H129 M124,914.3 H129 M124,1014.3 H129 M124,1114.3 H129 M124,1214.3 H129 M124,1314.3 H129 M124,1414.3 H129"/>
<path d="M128.7,1414.3 V1419.3 M185.7,1414.3 V1419.3 M242.7,1414.3 V1419.3 M299.7,1414.3 V1419.3 M356.7,1414.3 V1419.3 M413.7,1414.3 V1419.3 M470.3,1414.3 V1419.3"/>
</g>
<g font-size="16.5" text-anchor="end" fill="#111">
<text x="115" y="820.3">29</text><text x="115" y="920.3">25</text><text x="115" y="1020.3">21</text><text x="115" y="1120.3">17</text><text x="115" y="1220.3">13</text><text x="115" y="1320.3">9</text><text x="115" y="1420.3">5</text>
</g>
<g font-size="16.5" text-anchor="middle" fill="#111">
<text x="128.7" y="1440">35</text><text x="185.7" y="1440">45</text><text x="242.7" y="1440">55</text><text x="299.7" y="1440">65</text><text x="356.7" y="1440">75</text><text x="413.7" y="1440">85</text><text x="470.3" y="1440">95</text>
</g>
<text transform="translate(82,1062) rotate(-90)" font-size="16.5" text-anchor="middle" fill="#111">ln <tspan font-style="italic">A</tspan> (Ω<tspan font-size="11" dy="-6">-1</tspan><tspan dy="6">cm</tspan><tspan font-size="11" dy="-6">-2</tspan><tspan dy="6">)</tspan></text>
<text x="300" y="1465.5" font-size="16.5" text-anchor="middle" fill="#111"><tspan font-style="italic">E</tspan><tspan font-size="11" dy="4">a</tspan><tspan dy="-4"> (kJ mol</tspan><tspan font-size="11" dy="-6">-1</tspan><tspan dy="6">)</tspan></text>
<text x="147" y="826" font-size="16.5" fill="#111">25 °C</text>
<text x="147" y="866.5" font-size="16.5" fill="#111">Meyer-Neldel Rule</text>
<text x="147" y="944" font-size="21" fill="#111" font-family="Liberation Serif, serif"><tspan font-style="italic">A</tspan> ∝ α<tspan font-size="14" dy="-9">2</tspan><tspan font-style="italic" dy="9">νe</tspan><tspan font-style="italic" font-size="15" dy="-12">ΔS</tspan><tspan font-style="italic" font-size="10.5" dy="3">m</tspan><tspan font-style="italic" font-size="15" dy="-3">/k</tspan><tspan font-style="italic" font-size="10.5" dy="3">B</tspan></text>
<text x="287" y="983.5" font-size="16.5" fill="#ff0000">Higher <tspan font-style="italic">v</tspan></text>
<text x="287" y="1003.5" font-size="16.5" fill="#ff0000">Lower |Δ<tspan font-style="italic">S</tspan><tspan font-size="11" dy="4">m</tspan><tspan dy="-4">|</tspan></text>
<line x1="317" y1="1095" x2="209" y2="1034" stroke="#111" stroke-width="1.4"/>
<polygon points="199,1028 214.7,1028.8 207.7,1041" fill="#111"/>
<text x="322" y="1103.5" font-size="16.5" fill="#111">Decreased R<tspan font-size="11" dy="4">ct</tspan></text>
<g font-size="16.5" text-anchor="middle" fill="#111">
<text transform="translate(193,1080) rotate(-60.6)" y="5">1Ω cm<tspan font-size="11" dy="-6">-2</tspan></text>
<text transform="translate(222,1098) rotate(-60.6)" y="5">10Ω cm<tspan font-size="11" dy="-6">-2</tspan></text>
<text transform="translate(243,1121) rotate(-60.6)" y="5">100Ω cm<tspan font-size="11" dy="-6">-2</tspan></text>
<text transform="translate(266,1141) rotate(-60.6)" y="5">1000Ω cm<tspan font-size="11" dy="-6">-2</tspan></text>
</g>
<circle cx="472.3" cy="850" r="6.5" fill="#0070c0"/>
<circle cx="421.7" cy="884.3" r="6.5" fill="#00b050"/>
<polygon points="277.3,1003.3 279.53,1009.23 285.86,1009.52 280.91,1013.47 282.59,1019.58 277.3,1016.1 272.01,1019.58 273.69,1013.47 268.74,1009.52 275.07,1009.23" fill="#ff0000"/>
<circle cx="209" cy="1262.3" r="6.5" fill="#ed7d31"/>
<circle cx="156.3" cy="1293.3" r="6.5" fill="#000"/>
<text x="162" y="1309.5" font-size="16.5" fill="#111">Lower <tspan font-style="italic">v</tspan></text>
<text x="162" y="1330.5" font-size="16.5" fill="#111">Higher |Δ<tspan font-style="italic">S</tspan><tspan font-size="11" dy="4">m</tspan><tspan dy="-4">|</tspan></text>
<polygon points="301,1211 302.5,1215 306.7,1215.1 303.4,1217.8 304.5,1221.9 301,1219.5 297.5,1221.9 298.6,1217.8 295.3,1215.1 299.5,1215" fill="#ff0000"/>
<circle cx="301" cy="1251.7" r="5" fill="#000"/>
<circle cx="301" cy="1286" r="5" fill="#00b050"/>
<circle cx="301" cy="1320.7" r="5" fill="#ed7d31"/>
<circle cx="301" cy="1355.7" r="5" fill="#0070c0"/>
<g font-size="16.5" fill="#111">
<text x="309" y="1223">SPE</text><text x="309" y="1257.5">ILE</text><text x="309" y="1292">PEO</text><text x="309" y="1326.5">LLZTO</text><text x="309" y="1361.5">LLZO</text>
<text x="376" y="1222">2.4 Ω cm<tspan font-size="11" dy="-6">-2</tspan></text>
<text x="375" y="1256">92.8 Ω cm<tspan font-size="11" dy="-6">-2</tspan></text>
<text x="375" y="1290.5">1127.1 Ω cm<tspan font-size="11" dy="-6">-2</tspan></text>
<text x="374" y="1325">1201.1 Ω cm<tspan font-size="11" dy="-6">-2</tspan></text>
<text x="374" y="1360">10743.7 Ω cm<tspan font-size="11" dy="-6">-2</tspan></text>
</g>

<!-- ========== SEM G ========== -->
<text x="516" y="803" font-size="17" font-weight="bold">g</text>
<rect x="546" y="783" width="345" height="267" fill="#626262"/>
<rect x="546" y="783" width="345" height="267" fill="#000" filter="url(#nzA)"/>
<rect x="546" y="783" width="345" height="267" fill="#000" filter="url(#vnG)"/>
<rect x="690" y="783" width="201" height="151" fill="#5c5c5c"/>
<rect x="690" y="783" width="201" height="151" fill="#000" filter="url(#nzB)"/>
<rect x="690" y="783" width="201" height="151" fill="#000" filter="url(#vnGi)"/>
<rect x="690.5" y="783.5" width="200" height="150" fill="none" stroke="#2020ff" stroke-width="1.6"/>
<text x="703" y="910" font-size="17" fill="#fff">500 nm</text>
<rect x="704" y="917" width="24" height="3" fill="#fff"/>
<text x="570" y="1030" font-size="17" fill="#fff">2um</text>
<rect x="557" y="1034" width="43" height="3" fill="#fff"/>

<!-- ========== SEM H ========== -->
<text x="899" y="796" font-size="17" font-weight="bold">h</text>
<rect x="918" y="782" width="344" height="267" fill="#505050"/>
<rect x="918" y="782" width="344" height="267" fill="#000" filter="url(#nzA)"/>
<rect x="918" y="782" width="344" height="267" fill="#000" filter="url(#vnH)"/>
<rect x="1061" y="782" width="201" height="152" fill="#868686"/>
<ellipse cx="1180" cy="885" rx="80" ry="50" fill="url(#hdark)"/>
<rect x="1061" y="782" width="201" height="152" fill="#000" filter="url(#nzB)"/>
<rect x="1061.5" y="782.5" width="200" height="151" fill="none" stroke="#2020ff" stroke-width="1.6"/>
<text x="1080" y="910" font-size="17" fill="#fff">200 nm</text>
<rect x="1081" y="916.5" width="30" height="3" fill="#fff"/>
<text x="933" y="1027" font-size="17" fill="#fff">2um</text>
<rect x="932" y="1034" width="35" height="3" fill="#fff"/>

<!-- ========== SEM I ========== -->
<text x="519" y="1089" font-size="17" font-weight="bold">i</text>
<rect x="546" y="1073" width="345" height="339" fill="url(#iBody)"/>
<rect x="546" y="1100" width="345" height="248" fill="#000" filter="url(#nzA)"/>
<rect x="546" y="1100" width="345" height="170" fill="#000" filter="url(#vnI)"/>
<path d="M546,1073 H891 V1108 L880,1106 L860,1104 L840,1106 L815,1100 L790,1104 L760,1098 L735,1102 L700,1100 L680,1104 L650,1098 L620,1103 L590,1100 L565,1104 L546,1103 Z" fill="url(#iTop)"/>
<rect x="546" y="1348" width="345" height="44" fill="#8c8c8c"/>
<rect x="546" y="1348" width="345" height="44" fill="#000" filter="url(#nzB)"/>
<path d="M546,1412 V1390 L560,1386 L580,1392 L600,1390 L620,1384 L650,1388 L680,1383 L700,1386 L720,1379 L760,1381 L800,1377 L830,1380 L860,1381 L891,1378 V1412 Z" fill="#3a3a3a"/>
<line x1="546" y1="1348" x2="891" y2="1348" stroke="#2222ff" stroke-width="2" stroke-dasharray="6,4"/>
<line x1="572" y1="1119" x2="572" y2="1328" stroke="#2222ff" stroke-width="1.8" stroke-dasharray="5,4"/>
<polygon points="572,1107 566,1121 578,1121" fill="#2222ff"/>
<polygon points="572,1341 566,1327 578,1327" fill="#2222ff"/>
<text x="589" y="1322" font-size="18" fill="#fff">41.2±1.0um</text>
<text x="791" y="1375" font-size="17" fill="#fff">Cu foil</text>
<text x="567" y="1390.5" font-size="17" fill="#fff">10 um</text>
<rect x="558" y="1397" width="56" height="3" fill="#fff"/>

<!-- ========== SEM J ========== -->
<text x="899" y="1089" font-size="17" font-weight="bold">j</text>
<rect x="917" y="1071" width="346" height="339" fill="#1e1e1e"/>
<path d="M917,1263 L917,1240 L940,1232 L965,1238 L990,1228 L1020,1236 L1050,1226 L1080,1234 L1110,1228 L1140,1232 L1170,1226 L1200,1238 L1230,1232 L1263,1240 V1263 Z" fill="#282828"/>
<path d="M917,1262 L935,1258 L950,1262 L965,1250 L987,1245 L1005,1252 L1028,1258 L1052,1253 L1075,1257 L1099,1252 L1122,1252 L1145,1245 L1168,1250 L1192,1257 L1215,1258 L1238,1262 L1263,1263 V1348 H917 Z" fill="url(#jDep)"/>
<rect x="917" y="1264" width="346" height="84" fill="#000" filter="url(#nzA)" opacity="0.8"/>
<rect x="917" y="1348" width="346" height="38" fill="#737373"/>
<rect x="917" y="1348" width="346" height="38" fill="#000" filter="url(#nzB)"/>
<path d="M917,1410 V1385 L940,1383 L970,1385 L1000,1381 L1030,1383 L1060,1380 L1090,1384 L1120,1382 L1150,1380 L1180,1386 L1210,1383 L1240,1384 L1263,1382 V1410 Z" fill="#1c1c1c"/>
<path d="M917,1385 L940,1383 L970,1385 L1000,1381 L1030,1383 L1060,1380 L1090,1384 L1120,1382 L1150,1380 L1180,1386 L1210,1383 L1240,1384 L1263,1382" fill="none" stroke="#9a9a9a" stroke-width="1.5"/>
<line x1="917" y1="1349" x2="1263" y2="1349" stroke="#2222ff" stroke-width="2" stroke-dasharray="6,4"/>
<line x1="951" y1="1275" x2="951" y2="1333" stroke="#2222ff" stroke-width="1.8" stroke-dasharray="5,4"/>
<polygon points="951,1263 945,1277 957,1277" fill="#2222ff"/>
<polygon points="951,1345 945,1331 957,1331" fill="#2222ff"/>
<text x="949" y="1322" font-size="18" fill="#fff">14.9±0.5um</text>
<text x="1178" y="1375" font-size="17" fill="#fff">Cu foil</text>
<text x="940" y="1387" font-size="17" fill="#fff">10 um</text>
<rect x="928" y="1397" width="52" height="3" fill="#fff"/>
</svg>
</body></html>
